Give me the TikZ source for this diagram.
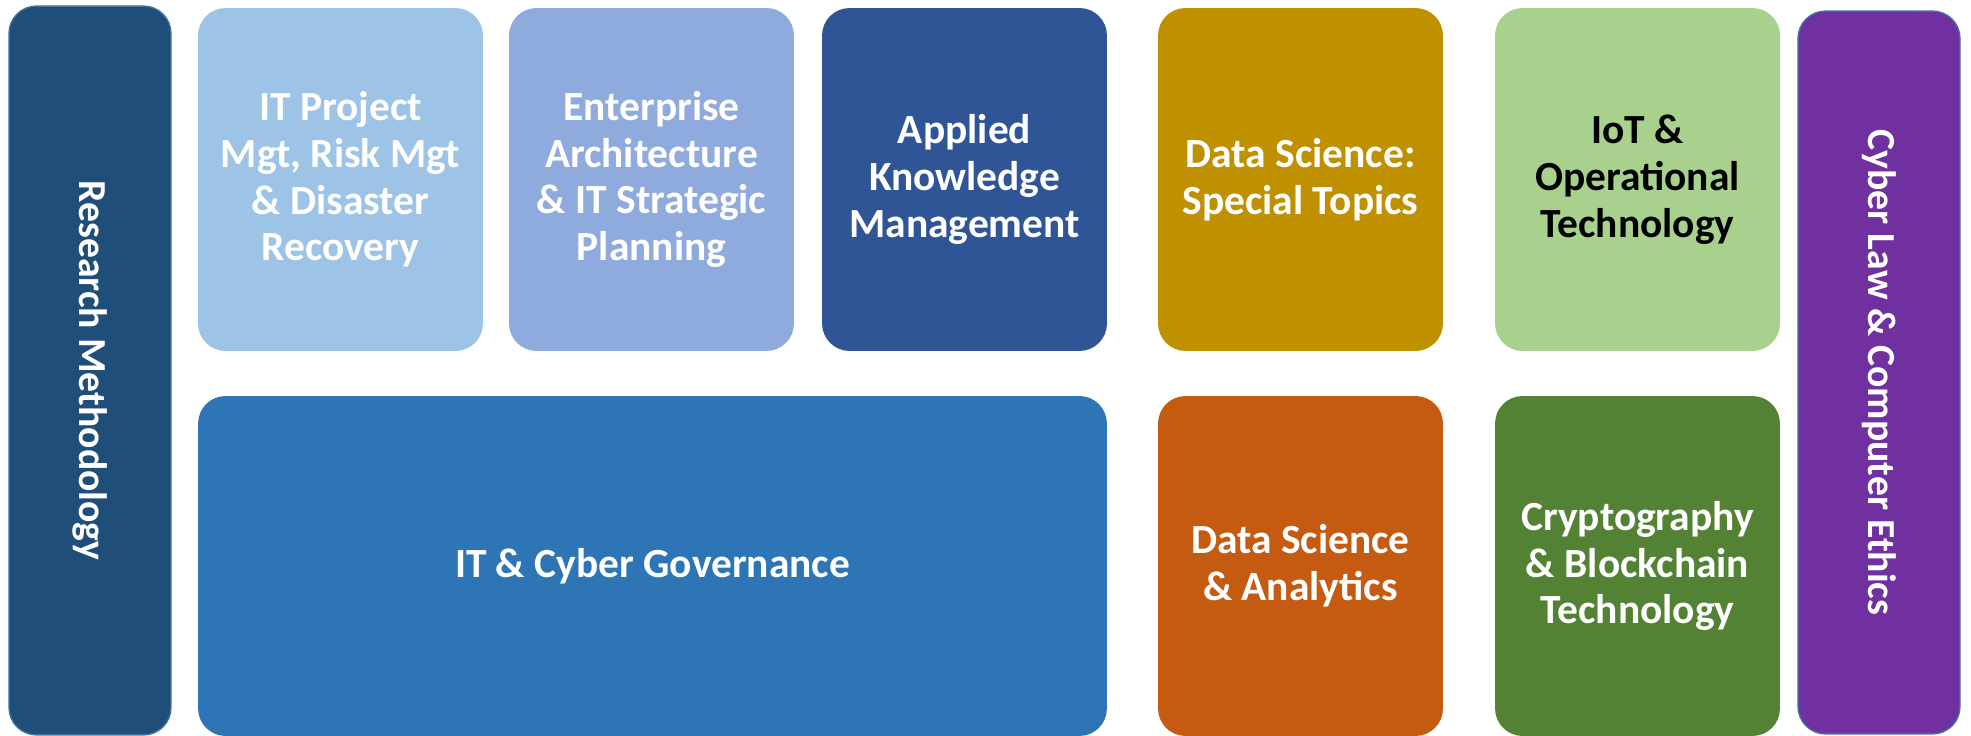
\documentclass[tikz,border=0pt]{standalone}
\usepackage{fontspec}
\setmainfont{Carlito}
\definecolor{rmblue}{HTML}{1F4E79}
\definecolor{edgeblue}{HTML}{41719C}
\definecolor{pmblue}{HTML}{9DC3E6}
\definecolor{eablue}{HTML}{8FAADC}
\definecolor{kmblue}{HTML}{2F5597}
\definecolor{govblue}{HTML}{2E75B6}
\definecolor{dsgold}{HTML}{BF9000}
\definecolor{dsorange}{HTML}{C55A11}
\definecolor{iotgreen}{HTML}{A9D18E}
\definecolor{bcgreen}{HTML}{548235}
\definecolor{lawpurple}{HTML}{7030A0}
\tikzset{
  course/.style={rounded corners=0.55cm, inner sep=0pt, align=center, text=white,
    font=\fontsize{23.6}{26.6}\selectfont\bfseries},
  tile/.style={course, minimum width=5.7cm, minimum height=6.86cm},
  lowtile/.style={course, minimum width=5.7cm, minimum height=6.8cm},
  pillar/.style={course, rotate=-90, draw=edgeblue, line width=0.8pt,
    font=\fontsize{22.6}{26.6}\selectfont\bfseries}
}
\begin{document}
\begin{tikzpicture}[x=0.02cm, y=-0.02cm]
  \useasboundingbox (0,0) rectangle (1971,736);
  % Side pillars
  \node[pillar, fill=rmblue, minimum width=14.58cm, minimum height=3.24cm] (method) at (90,370.5) {Research Methodology};
  \node[pillar, fill=lawpurple, minimum width=14.46cm, minimum height=3.24cm] (law) at (1879,372.5) {Cyber Law \& Computer Ethics};
  % Top row
  \node[tile, fill=pmblue] (project) at (340.5,179.5) {IT Project\\Mgt, Risk Mgt\\\& Disaster\\Recovery};
  \node[tile, fill=eablue] (enterprise) at (651.5,179.5) {Enterprise\\Architecture\\\& IT Strategic\\Planning};
  \node[tile, fill=kmblue] (knowledge) at (964.5,179.5) {Applied\\Knowledge\\Management};
  \node[tile, fill=dsgold] (special) at (1300.5,179.5) {Data Science:\\Special Topics};
  \node[tile, fill=iotgreen, text=black] (iot) at (1637.5,179.5) {IoT \&\\Operational\\Technology};
  % Bottom row
  \node[lowtile, fill=govblue, minimum width=18.18cm] (governance) at (652.5,566) {IT \& Cyber Governance};
  \node[lowtile, fill=dsorange] (analytics) at (1300.5,566) {Data Science\\\& Analytics};
  \node[lowtile, fill=bcgreen] (crypto) at (1637.5,566) {Cryptography\\\& Blockchain\\Technology};
\end{tikzpicture}
\end{document}
